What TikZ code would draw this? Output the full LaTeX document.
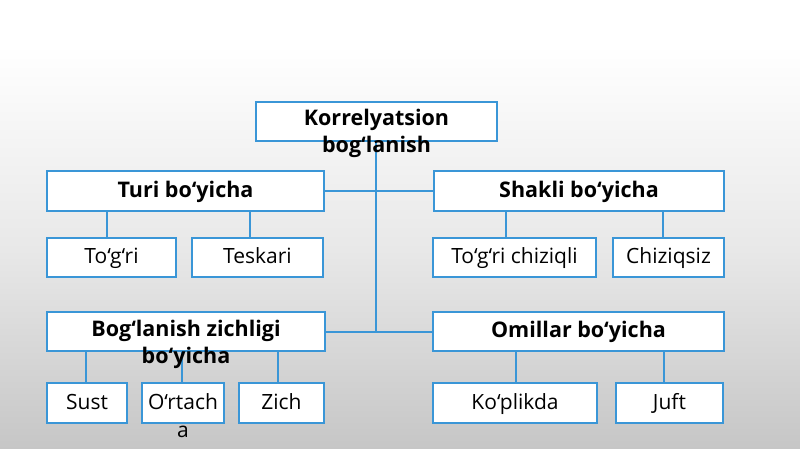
\documentclass[tikz,border=0pt]{standalone}
\usepackage{fontspec}
\setmainfont{Open Sans}
\definecolor{boxblue}{RGB}{58,150,215}
\definecolor{bgbottom}{RGB}{198,198,198}
\definecolor{bgmid}{RGB}{232,232,232}
\begin{document}
\begin{tikzpicture}[x=1pt,y=-1pt,
  box/.style={draw=boxblue,line width=2pt,fill=white,inner sep=0pt},
  conn/.style={draw=boxblue,line width=2pt},
  bold/.style={font=\fontsize{21.5}{27}\selectfont\bfseries,align=center,inner sep=0pt,anchor=base},
  reg/.style={font=\fontsize{21}{28}\selectfont,align=center,inner sep=0pt,anchor=base}]
\useasboundingbox (0,0) rectangle (800,449);
\fill[white] (0,0) rectangle (800,45);
\shade[top color=white,bottom color=bgmid] (0,45) rectangle (800,250);
\shade[top color=bgmid,bottom color=bgbottom] (0,250) rectangle (800,449);
% boxes
\node[box,minimum width=241pt,minimum height=39pt] (root) at (376.5,121.5) {};
\node[box,minimum width=277pt,minimum height=39pt] (turi) at (185.5,191) {};
\node[box,minimum width=290pt,minimum height=39pt] (shakli) at (579,191) {};
\node[box,minimum width=129pt,minimum height=39pt] (togri) at (111.5,257.5) {};
\node[box,minimum width=131pt,minimum height=39pt] (teskari) at (257.5,257.5) {};
\node[box,minimum width=163pt,minimum height=39pt] (tch) at (514.5,257.5) {};
\node[box,minimum width=111pt,minimum height=39pt] (chiz) at (668.5,257.5) {};
\node[box,minimum width=278pt,minimum height=39pt] (bog) at (186,331.5) {};
\node[box,minimum width=291pt,minimum height=39pt] (omil) at (578.5,331.5) {};
\node[box,minimum width=80pt,minimum height=40pt] (sust) at (87,403) {};
\node[box,minimum width=82pt,minimum height=40pt] (orta) at (183,403) {};
\node[box,minimum width=85pt,minimum height=40pt] (zich) at (281.5,403) {};
\node[box,minimum width=164pt,minimum height=40pt] (kop) at (515,403) {};
\node[box,minimum width=107pt,minimum height=40pt] (juft) at (669.5,403) {};
% connectors
\coordinate (trunkend) at (376,331.5);
\draw[conn] (root.south -| trunkend) -- (trunkend);
\draw[conn] (turi.east) -- (shakli.west);
\draw[conn] (bog.east) -- (omil.west);
\draw[conn] (107,210.5) coordinate (c1) -- (c1 |- togri.north);
\draw[conn] (250,210.5) coordinate (c2) -- (c2 |- teskari.north);
\draw[conn] (506,210.5) coordinate (c3) -- (c3 |- tch.north);
\draw[conn] (663,210.5) coordinate (c4) -- (c4 |- chiz.north);
\draw[conn] (86,351) coordinate (c5) -- (c5 |- sust.north);
\draw[conn] (182,351) coordinate (c6) -- (c6 |- orta.north);
\draw[conn] (278,351) coordinate (c7) -- (c7 |- zich.north);
\draw[conn] (516,351) coordinate (c8) -- (c8 |- kop.north);
\draw[conn] (664,351) coordinate (c9) -- (c9 |- juft.north);
% texts (multi-line nodes are placed by the baseline of their last line)
\node[bold] (rootlbl) at (376.5,153) {Korrelyatsion\\bog‘lanish};
\node[bold] (turilbl) at (185.5,197.5) {Turi bo‘yicha};
\node[bold] (shaklilbl) at (579,197.5) {Shakli bo‘yicha};
\node[bold] (boglbl) at (186,363.5) {Bog‘lanish zichligi\\bo‘yicha};
\node[bold] (omillbl) at (578.5,337.5) {Omillar bo‘yicha};
\node[reg] (togrilbl) at (111.5,263.5) {To‘g‘ri};
\node[reg] (teskarilbl) at (257.5,263.5) {Teskari};
\node[reg] (tchlbl) at (514.5,263.5) {To‘g‘ri chiziqli};
\node[reg] (chizlbl) at (668.5,263.5) {Chiziqsiz};
\node[reg] (sustlbl) at (87,409.5) {Sust};
\node[reg] (ortalbl) at (183,437.5) {O‘rtach\\a};
\node[reg] (zichlbl) at (281.5,409.5) {Zich};
\node[reg] (koplbl) at (515,409.5) {Ko‘plikda};
\node[reg] (juftlbl) at (669.5,409.5) {Juft};
\end{tikzpicture}
\end{document}
